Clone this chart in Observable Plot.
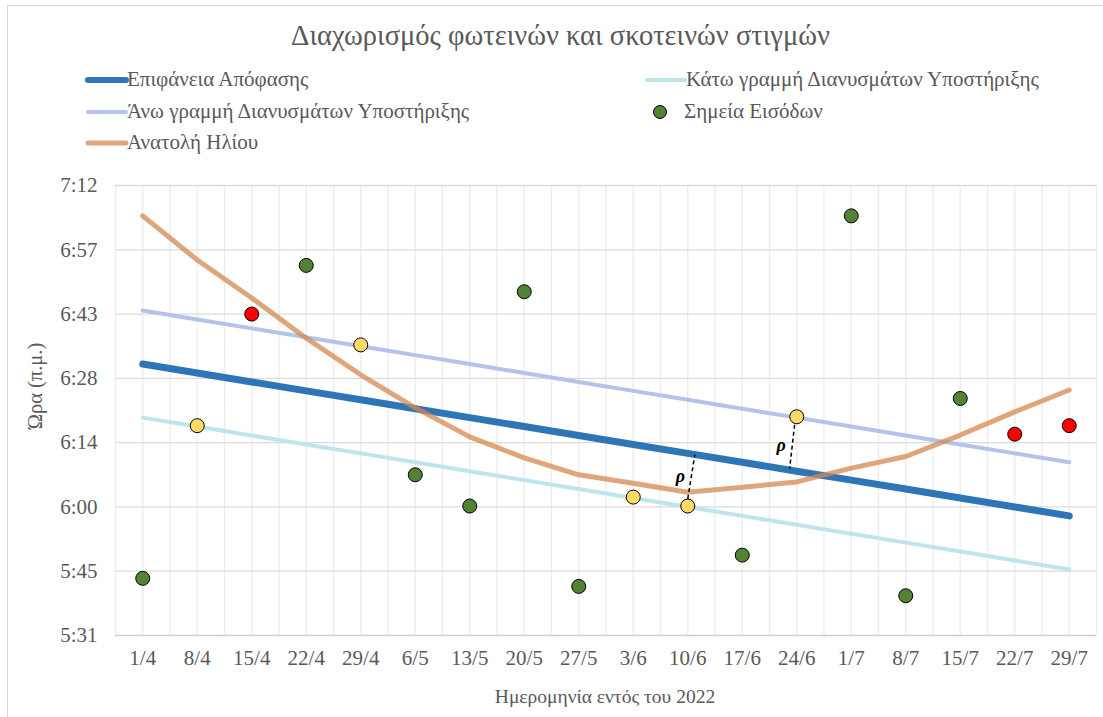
<!DOCTYPE html>
<html>
<head>
<meta charset="utf-8">
<script src="https://cdn.jsdelivr.net/npm/d3@7"></script>
<script src="https://cdn.jsdelivr.net/npm/@observablehq/plot@0.6"></script>
<style>
  html, body { margin: 0; padding: 0; background: #fff; }
  #wrap { position: relative; width: 1103px; height: 717px; overflow: hidden; color: #595959; }
  #wrap, #wrap div, #wrap span, #wrap svg, #wrap text { font-family: 'Liberation Serif', serif !important; }
  #frame { position: absolute; left: 7px; top: 5px; width: 1200px; height: 800px; border-left: 1.5px solid #d9d9d9; border-top: 1.5px solid #d9d9d9; }
  #ttl { position: absolute; left: 9px; width: 1103px; top: 20px; text-align: center; font-size: 28.5px; white-space: nowrap; }
  .leg { position: absolute; font-size: 21px; white-space: nowrap; line-height: 1; }
  .leg svg { position: absolute; }
  #ylab { position: absolute; left: 35px; top: 386px; transform: translate(-50%, -50%) rotate(-90deg); font-size: 20.5px; white-space: nowrap; }
  #xlab { position: absolute; left: 605px; top: 697px; transform: translate(-50%, -50%); font-size: 19.5px; white-space: nowrap; }
  #plotbox { position: absolute; left: 0; top: 160px; }
</style>
</head>
<body>
<div id="wrap" style="font-family:'Liberation Serif', serif">
  <div id="frame"></div>
  <div id="ttl"></div>
  <div id="legendbox"></div>
  <div id="plotbox"></div>
  <div id="ylab"></div>
  <div id="xlab"></div>
</div>
<script>
// ---- Data ----
const titleText = "Διαχωρισμός φωτεινών και σκοτεινών στιγμών";
const xTitle = "Ημερομηνία εντός του 2022";
const yTitle = "Ώρα (π.μ.)";
const categories = ["1/4","8/4","15/4","22/4","29/4","6/5","13/5","20/5","27/5","3/6","10/6","17/6","24/6","1/7","8/7","15/7","22/7","29/7"];
// values in minutes after midnight
const decisionSurface = [392,390,388,386,384,382,380,378,376,374,372,370,368,366,364,362,360,358];
const upperSV = [404,402,400,398,396,394,392,390,388,386,384,382,380,378,376,374,372,370];
const lowerSV = [380,378,376,374,372,370,368,366,364,362,360,358,356,354,352,350,348,346];
const sunrise = [425.2,415.3,406.8,397.8,389.6,382.2,375.7,371.0,367.2,365.3,363.3,364.4,365.6,368.7,371.3,376.1,381.3,386.2];
const entryPoints = [344.0,378.2,403.2,414.1,396.3,367.2,360.2,408.2,342.2,362.2,360.2,349.2,380.2,425.2,340.1,384.3,376.3,378.2];
const entryClass = ["g","y","r","g","y","g","g","g","g","y","y","g","y","g","g","g","r","r"];
const yTicks = [331.2,345.6,360,374.4,388.8,403.2,417.6,432];
const yTickLabels = ["5:31","5:45","6:00","6:14","6:28","6:43","6:57","7:12"];
// ρ distance annotations (category index / minutes)
const rhoFromX = [10, 11.96];
const rhoFromY = [361.8, 378.4];
const rhoToX = [10.13, 11.87];
const rhoToY = [371.7, 368.6];
const rhoLabel = ["ρ", "ρ"];

const legendNames = ["Επιφάνεια Απόφασης","Κάτω γραμμή Διανυσμάτων Υποστήριξης","Άνω γραμμή Διανυσμάτων Υποστήριξης","Σημεία Εισόδων","Ανατολή Ηλίου"];

// ---- Styles ----
const FONT = "'Liberation Serif', serif";
const cDecision = "#2e75b6", cUpper = "#b4c2ec", cLower = "#bde5ec", cSun = "#d4874f";
const pointColor = {g: "#548235", y: "#ffd966", r: "#ff0000"};

document.getElementById("ttl").textContent = titleText;
document.getElementById("xlab").textContent = xTitle;
document.getElementById("ylab").textContent = yTitle;

// legend
const legendItems = [
  {name: legendNames[0], type: "line", color: cDecision, w: 6, x: 85, y: 80},
  {name: legendNames[1], type: "line", color: cLower, w: 4, x: 644, y: 80},
  {name: legendNames[2], type: "line", color: cUpper, w: 4, x: 85, y: 112},
  {name: legendNames[3], type: "dot", color: pointColor.g, x: 644, y: 112},
  {name: legendNames[4], type: "line", color: cSun, w: 5, x: 85, y: 143, op: 0.75}
];
const legend = document.getElementById("legendbox");
for (const it of legendItems) {
  const d = document.createElement("div");
  d.className = "leg";
  d.style.left = it.x + "px";
  d.style.top = (it.y - 10) + "px";
  const sw = it.type === "line"
    ? `<svg width="44" height="20" style="left:0;top:0"><line x1="3" y1="10" x2="41" y2="10" stroke="${it.color}" stroke-width="${it.w}" stroke-linecap="round" ${it.op ? `stroke-opacity="${it.op}"` : ""}/></svg>`
    : `<svg width="44" height="20" style="left:0;top:0"><circle cx="16" cy="10" r="6.5" fill="${it.color}" stroke="#000" stroke-width="1"/></svg>`;
  d.innerHTML = sw + `<span style="position:absolute;left:${it.type === "line" ? 42 : 40}px;top:-1px">${it.name}</span>`;
  legend.appendChild(d);
}

// tables
const idx = categories.map((c, i) => i);
const lineRows = (arr) => arr.map((v, i) => ({i, v}));
const pts = entryPoints.map((v, i) => ({i, v, c: entryClass[i]}));
const rho = rhoLabel.map((t, k) => ({x1: rhoFromX[k], y1: rhoFromY[k], x2: rhoToX[k], y2: rhoToY[k], t}));
const gridX = d3.range(-0.5, 17.51, 0.5);

const plot = Plot.plot({
  width: 1103,
  height: 557,
  marginTop: 25,
  marginBottom: 82,
  marginLeft: 115,
  marginRight: 7,
  style: {fontFamily: FONT, fontSize: "21px", color: "#595959", background: "transparent", overflow: "visible"},
  x: {type: "linear", domain: [-0.5, 17.5], ticks: idx, tickFormat: i => categories[i], tickSize: 0, tickPadding: 15, label: null},
  y: {domain: [331.2, 432], ticks: yTicks, tickFormat: d => yTickLabels[yTicks.indexOf(d)], tickSize: 0, tickPadding: 18, label: null},
  marks: [
    Plot.ruleX(gridX, {stroke: "#ececec", strokeWidth: 1.3}),
    Plot.ruleY(yTicks.slice(1), {stroke: "#dcdcdc", strokeWidth: 1.3}),
    Plot.ruleY([yTicks[0]], {stroke: "#cfcfcf", strokeWidth: 1.5}),
    Plot.line(lineRows(lowerSV), {x: "i", y: "v", stroke: cLower, strokeWidth: 4, strokeLinecap: "round"}),
    Plot.line(lineRows(upperSV), {x: "i", y: "v", stroke: cUpper, strokeWidth: 4, strokeLinecap: "round"}),
    Plot.line(lineRows(decisionSurface), {x: "i", y: "v", stroke: cDecision, strokeWidth: 7, strokeLinecap: "round"}),
    Plot.line(lineRows(sunrise), {x: "i", y: "v", stroke: cSun, strokeWidth: 5, strokeOpacity: 0.75, strokeLinecap: "round", strokeLinejoin: "round"}),
    Plot.link(rho, {x1: "x1", y1: "y1", x2: "x2", y2: "y2", stroke: "#000", strokeWidth: 1.5, strokeDasharray: "4,3"}),
    Plot.text(rho, {x: d => (d.x1 + d.x2) / 2, y: d => (d.y1 + d.y2) / 2, text: "t", dx: -11, dy: -1, fill: "#000", fontSize: 18, fontStyle: "italic", fontWeight: "bold", fontFamily: FONT}),
    Plot.dot(pts, {x: "i", y: "v", r: 7, fill: d => pointColor[d.c], stroke: "#000", strokeWidth: 1})
  ]
});
document.getElementById("plotbox").appendChild(plot);
</script>
</body>
</html>
